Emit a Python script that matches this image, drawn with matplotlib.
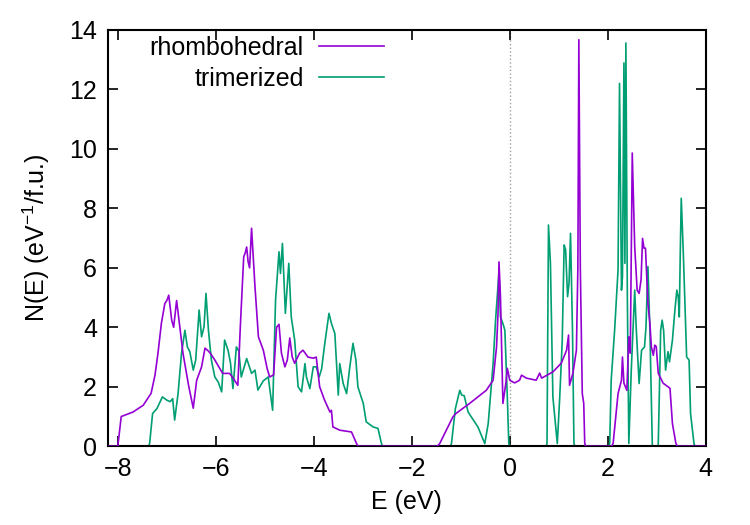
import matplotlib
matplotlib.use("Agg")
import matplotlib.pyplot as plt

plt.rcParams['font.family'] = ['Liberation Sans', 'DejaVu Sans']
plt.rcParams['mathtext.default'] = 'regular'
plt.rcParams['font.size'] = 18

# rhombohedral DOS
rh_E = [-8.2, -8.0, -7.93, -7.69, -7.48, -7.32, -7.24, -7.18, -7.11, -7.04, -7.0, -6.96, -6.92, -6.9,
        -6.86, -6.8, -6.77, -6.67, -6.55, -6.46, -6.39, -6.29, -6.22, -6.15, -6.1, -6.02, -5.95, -5.86,
        -5.72, -5.65, -5.55, -5.5, -5.43, -5.4, -5.37, -5.34, -5.31, -5.27, -5.2, -5.13, -5.03, -4.95,
        -4.9, -4.82, -4.76, -4.71, -4.66, -4.59, -4.54, -4.49, -4.44, -4.39, -4.29, -4.22, -4.12, -4.01,
        -3.95, -3.88, -3.78, -3.67, -3.64, -3.61, -3.47, -3.23, -3.13, -3.1,
        -1.48, -1.43, -1.16, -1.1, -0.82, -0.48, -0.34, -0.27, -0.24, -0.22, -0.19, -0.14, -0.08, -0.05,
        0.0, 0.1, 0.2, 0.24, 0.34, 0.54, 0.61, 0.65, 0.88, 1.05, 1.16, 1.2, 1.22, 1.29, 1.36, 1.39, 1.41,
        1.44, 1.48, 1.51, 1.53, 1.55,
        2.08, 2.11, 2.21, 2.28, 2.3, 2.33, 2.39, 2.43, 2.46, 2.5, 2.55, 2.6, 2.64, 2.68, 2.71, 2.74, 2.77,
        2.82, 2.86, 2.89, 2.93, 2.96, 2.99, 3.03, 3.13, 3.27, 3.32, 3.39, 3.42, 4.0]
rh_N = [0, 0, 1.0, 1.15, 1.38, 1.78, 2.4, 3.13, 4.14, 4.8, 4.9, 5.08, 4.5, 4.24,
        4.0, 4.9, 4.5, 3.13, 2.0, 1.28, 2.22, 2.67, 3.3, 3.2, 3.1, 2.9, 2.7, 2.45,
        2.45, 2.3, 2.05, 4.0, 6.37, 6.5, 6.7, 6.2, 6.0, 7.33, 5.36, 3.68, 3.23, 2.6,
        2.33, 2.4, 4.0, 4.1, 3.13, 2.67, 2.9, 3.64, 3.0, 2.79, 3.13, 3.23, 3.0, 2.96,
        3.0, 2.0, 1.55, 1.15, 1.21, 0.65, 0.54, 0.48, 0.1, 0,
        0, 0.09, 0.99, 1.1, 1.44, 1.88, 2.22, 3.34, 4.47, 6.2, 5.03, 1.44, 2.12, 2.62,
        2.22, 2.13, 2.22, 2.39, 2.29, 2.22, 2.46, 2.29, 2.5, 2.79, 3.23, 3.74, 2.05, 2.46, 3.23, 6.0, 13.67,
        6.0, 1.77, 1.44, 0.1, 0,
        0, 0.1, 1.77, 2.22, 3.0, 2.12, 1.88, 3.68, 3.13, 9.86, 6.71, 5.25, 5.14, 5.6, 6.99, 6.66, 6.66,
        4.8, 4.14, 3.34, 3.06, 3.4, 3.35, 2.46, 2.12, 1.95, 0.76, 0.1, 0, 0]

# trimerized DOS
tr_E = [-8.2, -7.37, -7.35, -7.29, -7.2, -7.09, -7.0, -6.93, -6.88, -6.84, -6.77, -6.7, -6.63, -6.58,
        -6.53, -6.46, -6.41, -6.34, -6.29, -6.24, -6.2, -6.15, -6.09, -6.02, -5.95, -5.88, -5.82, -5.75,
        -5.7, -5.65, -5.58, -5.53, -5.48, -5.37, -5.27, -5.2, -5.14, -5.03, -4.93, -4.84, -4.78, -4.71,
        -4.68, -4.64, -4.58, -4.51, -4.46, -4.39, -4.32, -4.25, -4.18, -4.15, -4.08, -4.01, -3.95, -3.89,
        -3.84, -3.78, -3.69, -3.64, -3.57, -3.5, -3.47, -3.4, -3.33, -3.27, -3.2, -3.14, -3.1, -2.99,
        -2.93, -2.79, -2.69, -2.62, -2.6,
        -1.21, -1.19, -1.11, -1.02, -0.98, -0.93, -0.85, -0.65, -0.51, -0.44, -0.34, -0.29, -0.22, -0.19,
        -0.14, -0.1, -0.05, -0.02, 0.0,
        0.74, 0.76, 0.79, 0.83, 0.88, 0.97, 1.02, 1.07, 1.11, 1.14, 1.18, 1.21, 1.24, 1.28, 1.31, 1.33,
        2.02, 2.04, 2.07, 2.14, 2.21, 2.24, 2.28, 2.3, 2.33, 2.35, 2.37, 2.4, 2.43, 2.48, 2.55, 2.58,
        2.64, 2.69, 2.75, 2.78, 2.82, 2.86, 2.91, 3.03, 3.08, 3.11, 3.14, 3.18, 3.23, 3.26, 3.32, 3.37,
        3.41, 3.44, 3.46, 3.48, 3.5, 3.54, 3.61, 3.66, 3.69, 3.76, 3.78, 4.0]
tr_N = [0, 0, 0.1, 1.1, 1.27, 1.66, 1.55, 1.5, 1.6, 0.88, 1.77, 3.12, 3.9, 3.34,
        3.18, 2.56, 2.9, 4.58, 3.68, 4.02, 5.14, 3.9, 2.9, 2.33, 2.16, 1.83, 3.57, 3.23,
        2.8, 1.94, 3.34, 3.2, 2.33, 2.95, 2.45, 2.56, 1.89, 2.2, 2.33, 1.21, 4.92, 6.54,
        5.81, 6.82, 4.47, 6.15, 4.35, 3.57, 2.0, 1.83, 2.78, 2.33, 1.94, 2.67, 2.67, 2.33,
        2.6, 3.4, 4.47, 4.13, 3.79, 1.72, 2.78, 2.11, 1.77, 2.6, 3.46, 2.9, 2.0, 1.44,
        0.82, 0.65, 0.6, 0.1, 0,
        0, 0.09, 1.27, 1.88, 1.72, 1.7, 1.15, 0.65, 0.09, 0.76, 2.78, 4.24, 5.87, 4.35,
        4.13, 3.9, 1.66, 0.09, 0,
        0, 0.09, 7.44, 6.15, 1.66, 0.09, 1.66, 3.5, 6.77, 6.6, 5.03, 5.5, 7.16, 3.9, 0.09, 0,
        0, 0.1, 2.22, 3.9, 5.93, 12.2, 5.25, 5.7, 12.89, 6.15, 13.56, 5.0, 0.09, 2.56, 5.25, 4.0,
        2.11, 3.23, 3.34, 4.0, 6.04, 3.9, 0, 0, 3.9, 4.24, 3.9, 2.56, 3.18, 2.84, 3.57, 4.58,
        5.25, 5.0, 4.35, 6.5, 8.34, 6.6, 3.0, 2.9, 1.1, 0.09, 0, 0]

fig = plt.figure(figsize=(7.5, 5.25), dpi=100)
ax = fig.add_axes([0.144, 0.150, 0.797, 0.793])

ax.axvline(0, color='#a0a0a0', linestyle=':', linewidth=1.0, zorder=1)
ax.plot(rh_E, rh_N, color='#9400d3', linewidth=1.2, label='rhombohedral', zorder=3)
ax.plot(tr_E, tr_N, color='#009e73', linewidth=1.2, label='trimerized', zorder=2)

ax.set_xlim(-8.2, 4)
ax.set_ylim(0, 14)
ax.set_xticks([-8, -6, -4, -2, 0, 2, 4])
ax.set_yticks([0, 2, 4, 6, 8, 10, 12, 14])
ax.tick_params(direction='in', length=7, width=1.2, top=True, right=True, pad=8)
for s in ax.spines.values():
    s.set_linewidth(1.5)

ax.set_xlabel('E (eV)', labelpad=6)
ax.set_ylabel('N(E) (eV$^{-1}$/f.u.)', labelpad=12)

ax.legend(loc='upper right', bbox_to_anchor=(0.4615, 0.985), frameon=False, markerfirst=False,
          handlelength=2.6, handletextpad=0.6, labelspacing=0.28, borderpad=0, borderaxespad=0)

fig.savefig('out.png', dpi=100)
